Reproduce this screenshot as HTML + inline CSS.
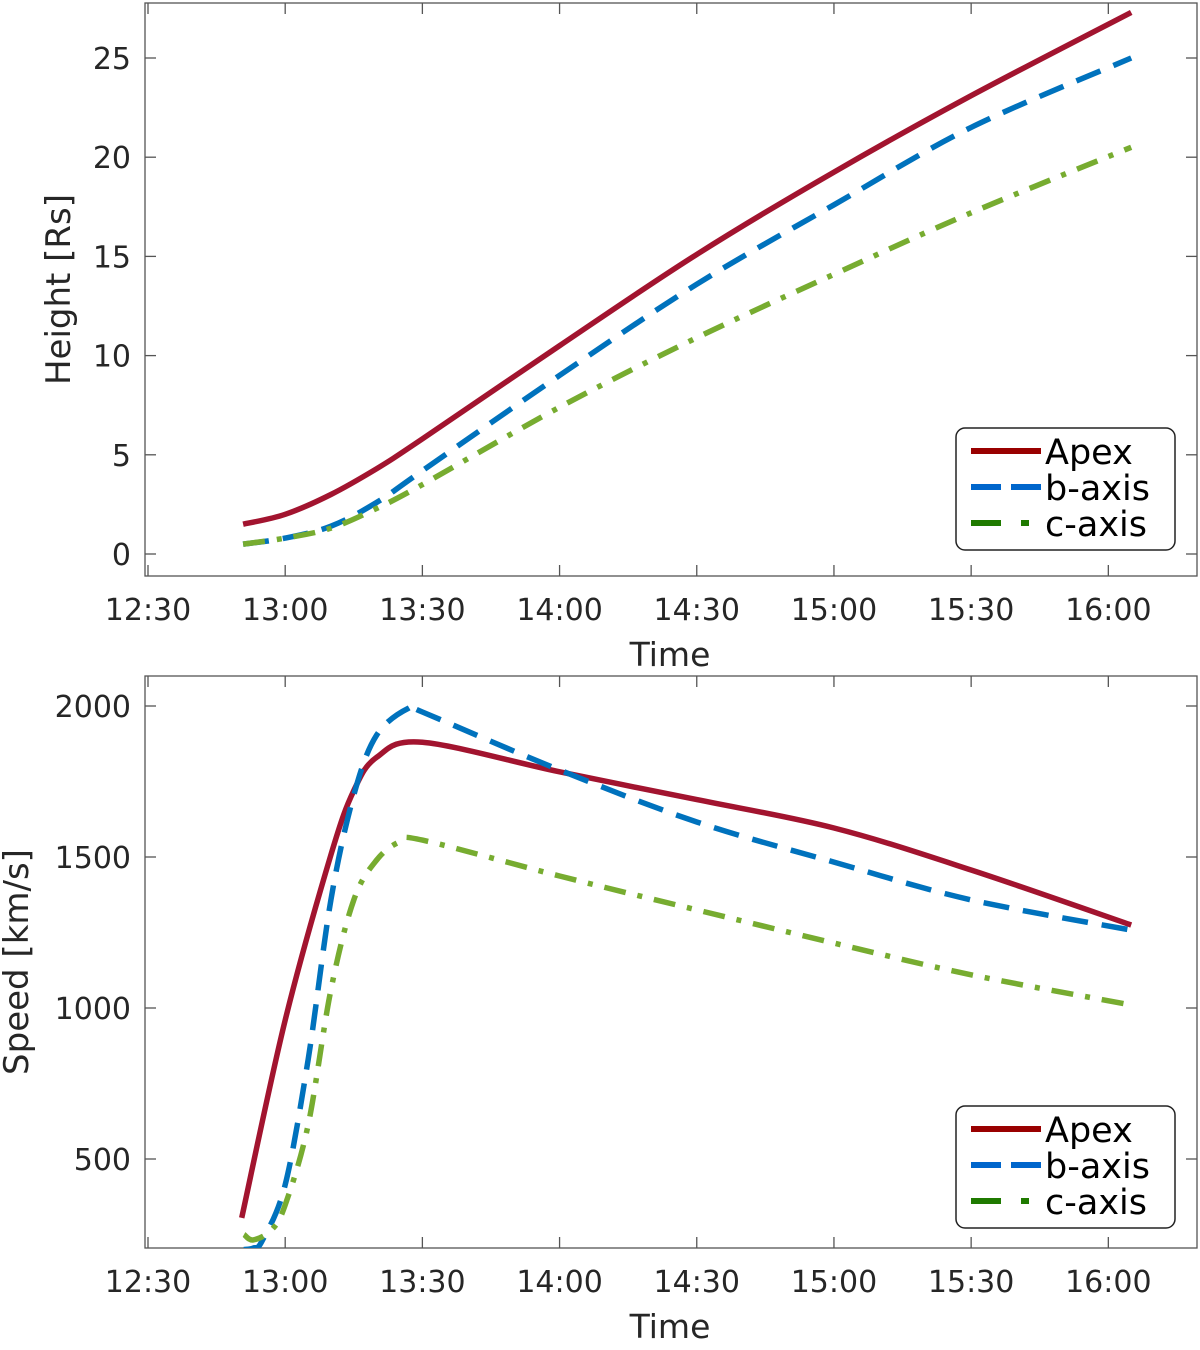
<!DOCTYPE html>
<html><head><meta charset="utf-8"><style>
body{margin:0;background:#fff;width:1200px;height:1345px;overflow:hidden}
svg text{font-family:"DejaVu Sans","Liberation Sans",sans-serif;fill:#262626}
</style></head><body>
<svg id="c" width="1200" height="1345" xmlns="http://www.w3.org/2000/svg"></svg>
<script>
const xTicks=[0,30,60,90,120,150,180,210];
const xTickLabels=["12:30","13:00","13:30","14:00","14:30","15:00","15:30","16:00"];
// minutes since 12:30
const hT=[20.8,30,40,50,60,90,120,150,180,215];
const hApex=[1.5,2.0,3.0,4.3,5.8,10.5,15.1,19.25,23.1,27.3];
const hB=[0.5,0.8,1.4,2.6,4.2,9.0,13.6,17.6,21.5,25.0];
const hC=[0.5,0.8,1.3,2.3,3.5,7.4,10.9,14.1,17.2,20.5];
const hYTicks=[0,5,10,15,20,25];
const sTA=[20.5,30,40,45,50,60,90,120,150,180,215];
const sApex=[305,960,1507,1720,1830,1880,1782,1690,1596,1457,1275];
const sTB=[21,23,25,30,35,40,45,50,57,60,90,120,150,180,215];
const sB=[200,205,230,415,828,1358,1705,1904,1993,1980,1788,1616,1483,1358,1258];
const sTC=[21,23,27,30,35,40,45,50,55,60,90,120,150,180,215];
const sC=[250,232,265,348,612,1060,1358,1490,1550,1556,1437,1325,1215,1110,1010];
const sYTicks=[500,1000,1500,2000];

const NS="http://www.w3.org/2000/svg";
const svg=document.getElementById('c');
function el(t,a,p){const e=document.createElementNS(NS,t);for(const k in a)e.setAttribute(k,a[k]);(p||svg).appendChild(e);return e;}
const X=t=>148+t*4.573;
const colors={a:"#a2142f",b:"#0072bd",c:"#77ac30"};
const lcolors={a:"#990000",b:"#0066cc",c:"#1f7a00"};
function path(xs,ys,fx,fy){
  const P=xs.map((x,i)=>[fx(x),fy(ys[i])]);
  let d="M"+P[0][0].toFixed(1)+","+P[0][1].toFixed(1);
  for(let i=0;i<P.length-1;i++){
    const p0=P[Math.max(0,i-1)],p1=P[i],p2=P[i+1],p3=P[Math.min(P.length-1,i+2)];
    const c1=[p1[0]+(p2[0]-p0[0])/6,p1[1]+(p2[1]-p0[1])/6];
    const c2=[p2[0]-(p3[0]-p1[0])/6,p2[1]-(p3[1]-p1[1])/6];
    d+="C"+c1.map(v=>v.toFixed(1)).join(",")+" "+c2.map(v=>v.toFixed(1)).join(",")+" "+p2[0].toFixed(1)+","+p2[1].toFixed(1);
  }
  return d;
}

function panel(top,bot,Y,yticks,ytitle,ytitleX,series,legY,name){
  const g=el('g',{});
  
  
  const clip=el('clipPath',{id:'cl'+name},g);
  el('rect',{x:145,y:top,width:1052,height:bot-top},clip);
  el('rect',{x:145,y:top,width:1052,height:bot-top,fill:'none',stroke:'#555','stroke-width':1.3},g);
  xTicks.forEach((t,i)=>{
    el('line',{x1:X(t),x2:X(t),y1:bot,y2:bot-11,stroke:'#555','stroke-width':1.3},g);
    el('line',{x1:X(t),x2:X(t),y1:top,y2:top+11,stroke:'#555','stroke-width':1.3},g);
    const tx=el('text',{x:X(t),y:bot+44,'text-anchor':'middle','font-size':30},g);tx.textContent=xTickLabels[i];
    
  });
  yticks.forEach(v=>{
    el('line',{x1:145,x2:156,y1:Y(v),y2:Y(v),stroke:'#555','stroke-width':1.3},g);
    el('line',{x1:1197,x2:1186,y1:Y(v),y2:Y(v),stroke:'#555','stroke-width':1.3},g);
    const tx=el('text',{x:131,y:Y(v)+11,'text-anchor':'end','font-size':30},g);tx.textContent=v;
    
  });
  const xt=el('text',{x:670,y:bot+90,'text-anchor':'middle','font-size':33},g);xt.textContent="Time";
  
  const yt=el('text',{x:0,y:0,'text-anchor':'middle','font-size':34,transform:`translate(${ytitleX},${(top+bot)/2}) rotate(-90)`},g);yt.textContent=ytitle;
  
  const dash={a:"none",b:"26,14",c:"22,12,5,12"};
  const lg=el('g',{'clip-path':`url(#cl${name})`},g);
  series.forEach(s=>{
    const p=el('path',{d:path(s.t,s.v,X,Y),fill:'none',stroke:colors[s.k],'stroke-width':5.5,'stroke-dasharray':dash[s.k],'stroke-linejoin':'round'},lg);
    
  });
  const L=el('g',{},g);
  
  
  el('rect',{x:956,y:legY,width:219,height:122,rx:9,fill:'#fff',stroke:'#222','stroke-width':1.5},L);
  const ld={a:"none",b:"30,10",c:"30,20,8,12"};
  [["a","Apex"],["b","b-axis"],["c","c-axis"]].forEach((r,i)=>{
    const yy=legY+23+i*36;
    el('line',{x1:971,x2:1041,y1:yy,y2:yy,stroke:lcolors[r[0]],'stroke-width':6,'stroke-dasharray':ld[r[0]]},L);
    const tx=el('text',{x:1045,y:yy+13,'font-size':35,style:'fill:#000'},L);tx.textContent=r[1];
    
  });
}
const Yh=v=>554-v*19.84;
panel(3,576,Yh,hYTicks,"Height [Rs]",70,[{k:'a',t:hT,v:hApex,n:'apex'},{k:'b',t:hT,v:hB,n:'b-axis'},{k:'c',t:hT,v:hC,n:'c-axis'}],428,'height-panel');
const Ys=v=>706+(2000-v)*0.302;
panel(676,1248,Ys,sYTicks,"Speed [km/s]",28,[{k:'a',t:sTA,v:sApex,n:'apex'},{k:'b',t:sTB,v:sB,n:'b-axis'},{k:'c',t:sTC,v:sC,n:'c-axis'}],1106,'speed-panel');
</script>
</body></html>
